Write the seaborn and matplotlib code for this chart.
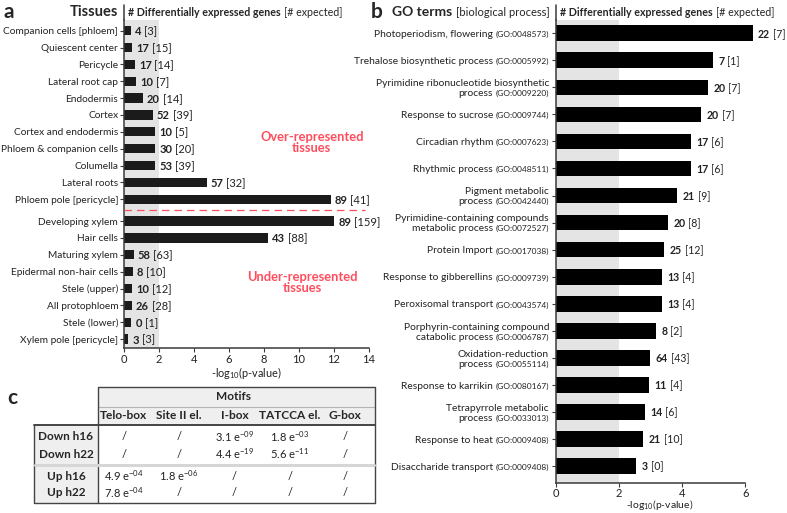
import numpy as np
import matplotlib
matplotlib.use("Agg")
import matplotlib.pyplot as plt
import seaborn as sns
from matplotlib.patches import Rectangle

sns.set_style("ticks")
plt.rcParams["font.family"] = ["Lato", "DejaVu Sans"]
plt.rcParams["mathtext.default"] = "regular"

# ---- panel a: tissues ----
tissues = ["Companion cells [phloem]", "Quiescent center", "Pericycle", "Lateral root cap",
           "Endodermis", "Cortex", "Cortex and endodermis", "Phloem & companion cells",
           "Columella", "Lateral roots", "Phloem pole [pericycle]", "Developing xylem",
           "Hair cells", "Maturing xylem", "Epidermal non-hair cells", "Stele (upper)",
           "All protophloem", "Stele (lower)", "Xylem pole [pericycle]"]
tissue_logp = [0.38, 0.48, 0.61, 0.67, 1.07, 1.64, 1.77, 1.79, 1.79, 4.72, 11.8,
               12.02, 8.22, 0.55, 0.51, 0.44, 0.44, 0.42, 0.25]
tissue_deg = [4, 17, 17, 10, 20, 52, 10, 30, 53, 57, 89, 89, 43, 58, 8, 10, 26, 0, 3]
tissue_exp = [3, 15, 14, 7, 14, 39, 5, 20, 39, 32, 41, 159, 88, 63, 10, 12, 28, 1, 3]
n_over = 11  # first 11 rows are over-represented

# ---- panel b: GO terms ----
go_names = ["Photoperiodism, flowering", "Trehalose biosynthetic process",
            "Pyrimidine ribonucleotide biosynthetic\nprocess", "Response to sucrose",
            "Circadian rhythm", "Rhythmic process", "Pigment metabolic\nprocess",
            "Pyrimidine-containing compounds\nmetabolic process", "Protein Import",
            "Response to gibberellins", "Peroxisomal transport",
            "Porphyrin-containing compound\ncatabolic process", "Oxidation-reduction\nprocess",
            "Response to karrikin", "Tetrapyrrole metabolic\nprocess", "Response to heat",
            "Disaccharide transport"]
go_ids = ["GO:0048573", "GO:0005992", "GO:0009220", "GO:0009744", "GO:0007623",
          "GO:0048511", "GO:0042440", "GO:0072527", "GO:0017038", "GO:0009739",
          "GO:0043574", "GO:0006787", "GO:0055114", "GO:0080167", "GO:0033013",
          "GO:0009408", "GO:0009408"]
go_logp = [6.23, 4.97, 4.81, 4.60, 4.27, 4.27, 3.85, 3.54, 3.43, 3.35, 3.35, 3.16,
           2.98, 2.95, 2.81, 2.77, 2.55]
go_deg = [22, 7, 20, 20, 17, 17, 21, 20, 25, 13, 13, 8, 64, 11, 14, 21, 3]
go_exp = [7, 1, 7, 7, 6, 6, 9, 8, 12, 4, 4, 2, 43, 4, 6, 10, 0]

# ---- panel c: motif table ----
motif_cols = ["Telo-box", "Site II el.", "I-box", "TATCCA el.", "G-box"]
motif_rows = ["Down h16", "Down h22", "Up h16", "Up h22"]
motif_pvals = [["/", "/", "3.1 e$^{-09}$", "1.8 e$^{-03}$", "/"],
               ["/", "/", "4.4 e$^{-19}$", "5.6 e$^{-11}$", "/"],
               ["4.9 e$^{-04}$", "1.8 e$^{-06}$", "/", "/", "/"],
               ["7.8 e$^{-04}$", "/", "/", "/", "/"]]

W, H = 787, 513
SPINE = "#3a3a3a"
SHADE = "#e4e4e4"
RED = "#ff4d5e"
TXT = "#222222"


def fx(x):
    return x / W


def fy(y):
    return 1 - y / H


def style_axis(ax, top_ext, pad=1.2):
    sns.despine(ax=ax)
    for s in ("left", "bottom"):
        ax.spines[s].set_color(SPINE)
        ax.spines[s].set_linewidth(1.1)
    ax.tick_params(axis="both", colors=SPINE, length=3, width=0.8, labelsize=8,
                   labelcolor=TXT, pad=pad)
    ax.plot([0, 0], [1, 1 + top_ext], transform=ax.get_xaxis_transform(),
            clip_on=False, color=SPINE, lw=1.1)
    ax.set_ylabel("")
    ax.set_xlabel("-log$_{10}$(p-value)", fontsize=7.8, labelpad=0, color=TXT)


def value_labels(ax, xs, ys, deg, exp, off, size):
    for x, y, d, e in zip(xs, ys, deg, exp):
        t = ax.annotate(f"{d}", xy=(x, y), xytext=(off, 0), textcoords="offset points",
                        ha="left", va="center_baseline", fontsize=size, fontweight="bold",
                        color=TXT)
        ax.annotate(f"[{e}]", xy=(1, y), xycoords=(t, "data"), xytext=(2, 0),
                    textcoords="offset points", ha="left", va="center_baseline",
                    fontsize=size, color=TXT)


fig = plt.figure(figsize=(W / 100, H / 100), dpi=100)

# ---------------- panel a ----------------
ax_a = fig.add_axes([fx(124), fy(348), (369 - 124) / W, (348 - 20) / H])
idx = np.arange(len(tissues))
pos_a = idx + np.where(idx >= n_over, 0.3, 0.0)
ax_a.axvspan(0, 2, color=SHADE, lw=0, zorder=0)
sns.barplot(x=tissue_logp, y=pos_a, orient="h", native_scale=True, color="#1b1b1b",
            saturation=1, width=0.55, linewidth=0, errorbar=None, ax=ax_a, zorder=2)
ax_a.set_xlim(0, 14)
ax_a.set_ylim(18.83, -0.635)
ax_a.set_xticks(range(0, 15, 2))
ax_a.set_yticks(pos_a)
ax_a.set_yticklabels(tissues)
style_axis(ax_a, 15 / 328)
ax_a.tick_params(axis="y", labelsize=7.3)
value_labels(ax_a, tissue_logp, pos_a, tissue_deg, tissue_exp, 3, 8)
ax_a.axhline((pos_a[n_over - 1] + pos_a[n_over]) / 2, xmin=0, xmax=0.985, color=RED,
             lw=0.9, dashes=(6, 4), zorder=3)
ax_a.text(10.73, 6.65, "Over-represented\ntissues", color=RED, fontsize=9.3,
          fontweight="bold", ha="center", va="center", linespacing=0.9)
ax_a.text(10.2, 14.96, "Under-represented\ntissues", color=RED, fontsize=9.3,
          fontweight="bold", ha="center", va="center", linespacing=0.9)

# ---------------- panel b ----------------
ax_b = fig.add_axes([fx(556), fy(483.3), (745.3 - 556) / W * 6.6 / 6, (483.3 - 20) / H])
pos_b = np.arange(len(go_names))
ax_b.axvspan(0, 2, color=SHADE, lw=0, zorder=0)
sns.barplot(x=go_logp, y=pos_b, orient="h", native_scale=True, color="black",
            saturation=1, width=0.58, linewidth=0, errorbar=None, ax=ax_b, zorder=2)
ax_b.set_xlim(0, 6.6)
ax_b.set_ylim(16.64, -0.49)
ax_b.spines["bottom"].set_bounds(0, 6)
ax_b.set_xticks([0, 2, 4, 6])
ax_b.set_yticks(pos_b)
ax_b.set_yticklabels([])
style_axis(ax_b, 15 / 463, pad=0.6)
ax_b.xaxis.label.set_fontsize(7.5)
ax_b.xaxis.set_label_coords(0.5, -(498 - 483.3) / 463.3)
value_labels(ax_b, go_logp, pos_b, go_deg, go_exp, 4, 7.6)

line_step = 7.2
for p, name, gid in zip(pos_b, go_names, go_ids):
    lines = name.split("\n")
    n = len(lines)
    for k, line in enumerate(lines):
        by = -2.7 - (k - (n - 1) / 2) * line_step
        if k == n - 1:
            g = ax_b.annotate(f"({gid})", xy=(0, p), xycoords=("axes fraction", "data"),
                              xytext=(-5, by), textcoords="offset points", ha="right",
                              va="baseline", fontsize=6.0, color=TXT)
            ax_b.annotate(line, xy=(0, p), xycoords=(g, "data"), xytext=(-1.8, by),
                          textcoords="offset points", ha="right", va="baseline",
                          fontsize=7.4, color=TXT)
        else:
            ax_b.annotate(line, xy=(0, p), xycoords=("axes fraction", "data"),
                          xytext=(-5, by), textcoords="offset points", ha="right",
                          va="baseline", fontsize=7.4, color=TXT)

# ---------------- headers ----------------
fig.text(fx(4), fy(12), "a", fontsize=15, fontweight="bold", va="center")
fig.text(fx(118), fy(12), "Tissues", fontsize=10.5, fontweight="bold", ha="right", va="center")
fig.text(fx(371), fy(12), "b", fontsize=15, fontweight="bold", va="center")
g = fig.text(fx(392), fy(12), "GO terms", fontsize=10, fontweight="bold", va="center")
ax_b.annotate("[biological process]", xy=(1, fy(12)), xycoords=(g, "figure fraction"),
              xytext=(2.5, 0), textcoords="offset points", ha="left", va="center",
              fontsize=8, annotation_clip=False)
for x0 in (128, 560):
    h = fig.text(fx(x0), fy(12), "# Differentially expressed genes", fontsize=7.7,
                 fontweight="bold", va="center")
    ax_b.annotate("[# expected]", xy=(1, fy(12)), xycoords=(h, "figure fraction"),
                  xytext=(2.2, 0), textcoords="offset points", ha="left", va="center",
                  fontsize=7.7, annotation_clip=False)
fig.text(fx(7), fy(398), "c", fontsize=15, fontweight="bold", va="center")

# ---------------- panel c: table ----------------
ax_t = fig.add_axes([0, 0, 1, 1], facecolor="none")
ax_t.set_xlim(0, W)
ax_t.set_ylim(H, 0)
ax_t.axis("off")

tab_l, hdr_l, tab_r = 34, 98, 375
top, mot_b, hdr_b, bot = 387, 406.5, 425, 502.5
row_h, grp_gap = 17, 5
col_w = (tab_r - hdr_l) / len(motif_cols)
TAB_BG = "#efefef"
TAB_LINE = "#444444"

ax_t.add_patch(Rectangle((hdr_l, top), tab_r - hdr_l, hdr_b - top, fc=TAB_BG, lw=0))
ax_t.add_patch(Rectangle((tab_l, hdr_b), hdr_l - tab_l, bot - hdr_b, fc=TAB_BG, lw=0))
ax_t.plot([hdr_l, tab_r], [mot_b, mot_b], color="#b5b5b5", lw=0.8)
ax_t.plot([hdr_l, hdr_l, tab_r, tab_r], [hdr_b, top, top, bot], color=TAB_LINE, lw=1.0)
ax_t.plot([hdr_l, hdr_l], [hdr_b, bot], color=TAB_LINE, lw=1.0)
ax_t.plot([tab_l, tab_r], [hdr_b, hdr_b], color=TAB_LINE, lw=1.4)
ax_t.plot([tab_l, tab_l, tab_r], [hdr_b, bot, bot], color=TAB_LINE, lw=1.0)
sep_y = hdr_b + 3.5 + 2 * row_h + grp_gap / 2
ax_t.plot([tab_l + 1, tab_r - 1], [sep_y, sep_y], color="#d6d6d6", lw=2.2)

ax_t.text((hdr_l + tab_r) / 2 - 3, (top + mot_b) / 2, "Motifs", fontsize=8.6,
          fontweight="bold", ha="center", va="center")
for j, c in enumerate(motif_cols):
    ax_t.text(hdr_l + col_w * (j + 0.5) - 2, (mot_b + hdr_b) / 2, c, fontsize=8.6,
              fontweight="bold", ha="center", va="center")
for i, r in enumerate(motif_rows):
    yc = hdr_b + 3.5 + row_h * (i + 0.5) + (grp_gap if i >= 2 else 0)
    ax_t.text((tab_l + hdr_l) / 2, yc, r, fontsize=8.5, fontweight="bold",
              ha="center", va="center")
    for j, v in enumerate(motif_pvals[i]):
        ax_t.text(hdr_l + col_w * (j + 0.5) - 2, yc, v, fontsize=8,
                  ha="center", va="center", color=TXT)

fig.savefig("out.png", dpi=100)
